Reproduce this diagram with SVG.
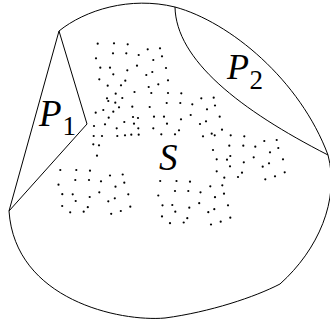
<svg xmlns="http://www.w3.org/2000/svg" width="330" height="324" viewBox="0 0 330 324">
<style>
.ln{fill:none;stroke:#000;stroke-width:1;stroke-linejoin:miter}
.pts circle{fill:#000}
</style>
<rect width="330" height="324" fill="#fff"/>
<g id="S-region">
<path class="ln" d="M59,31 C85,10 130,-4 175,7 C230,22 300,80 328,155 C340,200 318,250 280,284 C255,297 210,312 165,318 C120,322 15,300 9,211 Z"/>
<text x="159" y="170" font-family="Liberation Serif, Times New Roman, serif" font-style="italic" font-size="37" fill="#000">S</text>
</g>
<g id="P1">
<polyline class="ln" points="59,31 87,124 9,211"/>
<text x="39" y="126" font-family="Liberation Serif, Times New Roman, serif" font-style="italic" font-size="37" fill="#000">P</text>
<text x="62.5" y="135" font-family="Liberation Serif, Times New Roman, serif" font-size="27" fill="#000">1</text>
</g>
<g id="P2">
<path class="ln" d="M175,7 C176,60 240,110 328,155"/>
<text x="227" y="79" font-family="Liberation Serif, Times New Roman, serif" font-style="italic" font-size="36" fill="#000">P</text>
<text x="249.5" y="89" font-family="Liberation Serif, Times New Roman, serif" font-size="27" fill="#000">2</text>
</g>
<g id="points" class="pts">
<circle cx="97.7" cy="43.7" r="1.1"/><circle cx="114" cy="43.3" r="1.1"/><circle cx="127.7" cy="44.3" r="1.1"/>
<circle cx="113" cy="53.3" r="1.1"/><circle cx="126.3" cy="53.3" r="1.1"/><circle cx="96" cy="58.3" r="1.1"/>
<circle cx="100.3" cy="67.7" r="1.1"/><circle cx="110" cy="67.7" r="1.1"/><circle cx="127.3" cy="70.3" r="1.1"/>
<circle cx="113.3" cy="74.3" r="1.1"/><circle cx="99.3" cy="79.3" r="1.1"/><circle cx="125.3" cy="80.7" r="1.1"/>
<circle cx="107.7" cy="85.7" r="1.1"/><circle cx="121" cy="85.3" r="1.1"/><circle cx="134.5" cy="92" r="1.1"/>
<circle cx="115.7" cy="93.7" r="1.1"/><circle cx="107" cy="98.3" r="1.1"/><circle cx="122.3" cy="98" r="1.1"/>
<circle cx="147.7" cy="49.3" r="1.1"/><circle cx="160" cy="48.3" r="1.1"/><circle cx="138.7" cy="55" r="1.1"/>
<circle cx="153.3" cy="60" r="1.1"/><circle cx="162" cy="56.3" r="1.1"/><circle cx="137" cy="65.7" r="1.1"/>
<circle cx="166" cy="68" r="1.1"/><circle cx="146.3" cy="75" r="1.1"/><circle cx="152.3" cy="72" r="1.1"/>
<circle cx="168" cy="80.3" r="1.1"/><circle cx="148.7" cy="87" r="1.1"/><circle cx="158.3" cy="84.3" r="1.1"/>
<circle cx="151.3" cy="93" r="1.1"/><circle cx="168" cy="93" r="1.1"/><circle cx="181.3" cy="93.3" r="1.1"/>
<circle cx="201.3" cy="98.3" r="1.1"/><circle cx="213.7" cy="97.7" r="1.1"/>
<circle cx="108.3" cy="101" r="1.1"/><circle cx="115.3" cy="102.7" r="1.1"/><circle cx="119" cy="107.3" r="1.1"/>
<circle cx="113.3" cy="111.7" r="1.1"/><circle cx="103.3" cy="110" r="1.1"/><circle cx="95.7" cy="112.7" r="1.1"/>
<circle cx="132.3" cy="106.7" r="1.1"/><circle cx="108.7" cy="117.7" r="1.1"/><circle cx="133" cy="117" r="1.1"/>
<circle cx="124.3" cy="122" r="1.1"/><circle cx="134" cy="123.7" r="1.1"/><circle cx="94" cy="126" r="1.1"/>
<circle cx="105" cy="124.3" r="1.1"/><circle cx="116.7" cy="128.3" r="1.1"/><circle cx="93.7" cy="136" r="1.1"/>
<circle cx="102" cy="136" r="1.1"/><circle cx="117.3" cy="136" r="1.1"/><circle cx="125" cy="135.3" r="1.1"/>
<circle cx="131.3" cy="134.7" r="1.1"/><circle cx="93.3" cy="144.3" r="1.1"/><circle cx="99" cy="145.3" r="1.1"/>
<circle cx="97" cy="155.7" r="1.1"/>
<circle cx="149.7" cy="107" r="1.1"/><circle cx="166.7" cy="103" r="1.1"/><circle cx="180.3" cy="103" r="1.1"/>
<circle cx="192.3" cy="104.3" r="1.1"/><circle cx="138" cy="118" r="1.1"/><circle cx="154" cy="116.7" r="1.1"/>
<circle cx="164" cy="116.7" r="1.1"/><circle cx="181" cy="119.3" r="1.1"/><circle cx="190.7" cy="115" r="1.1"/>
<circle cx="207" cy="109.3" r="1.1"/><circle cx="215" cy="105.5" r="1.1"/><circle cx="138.3" cy="128.3" r="1.1"/>
<circle cx="153.3" cy="128.3" r="1.1"/><circle cx="167" cy="123.7" r="1.1"/><circle cx="200" cy="124" r="1.1"/>
<circle cx="206" cy="121.3" r="1.1"/><circle cx="138.7" cy="134.7" r="1.1"/><circle cx="161.3" cy="134.3" r="1.1"/>
<circle cx="175" cy="134.3" r="1.1"/><circle cx="179" cy="130.3" r="1.1"/><circle cx="203" cy="136.3" r="1.1"/>
<circle cx="211.7" cy="133.7" r="1.1"/><circle cx="214.7" cy="135.3" r="1.1"/><circle cx="213" cy="150" r="1.1"/>
<circle cx="219.7" cy="116.7" r="1.1"/><circle cx="222" cy="129.7" r="1.1"/><circle cx="230.7" cy="135.3" r="1.1"/>
<circle cx="244.3" cy="136.3" r="1.1"/><circle cx="229.3" cy="145.7" r="1.1"/><circle cx="243.3" cy="145.7" r="1.1"/>
<circle cx="255.3" cy="146.7" r="1.1"/><circle cx="264.3" cy="141" r="1.1"/><circle cx="276.7" cy="140" r="1.1"/>
<circle cx="278.3" cy="148" r="1.1"/><circle cx="270" cy="152.3" r="1.1"/><circle cx="216.7" cy="159.3" r="1.1"/>
<circle cx="227" cy="159.7" r="1.1"/><circle cx="230.3" cy="156" r="1.1"/><circle cx="243.8" cy="162.3" r="1.1"/>
<circle cx="253.7" cy="157.3" r="1.1"/><circle cx="269" cy="163.3" r="1.1"/><circle cx="283" cy="159.3" r="1.1"/>
<circle cx="216.7" cy="171.3" r="1.1"/><circle cx="230" cy="166.3" r="1.1"/><circle cx="224.3" cy="177.7" r="1.1"/>
<circle cx="238" cy="177" r="1.1"/><circle cx="242" cy="172.7" r="1.1"/><circle cx="262.7" cy="166.7" r="1.1"/>
<circle cx="265.3" cy="179.3" r="1.1"/><circle cx="275" cy="176.3" r="1.1"/><circle cx="284.7" cy="172.3" r="1.1"/>
<circle cx="176.5" cy="181" r="1.1"/><circle cx="190" cy="181.7" r="1.1"/><circle cx="175" cy="191" r="1.1"/>
<circle cx="188.3" cy="191" r="1.1"/><circle cx="200.5" cy="192.3" r="1.1"/><circle cx="210.3" cy="186.3" r="1.1"/>
<circle cx="222.3" cy="185.3" r="1.1"/><circle cx="215" cy="197.2" r="1.1"/><circle cx="224" cy="193.7" r="1.1"/>
<circle cx="172.3" cy="205" r="1.1"/><circle cx="175.3" cy="211.7" r="1.1"/><circle cx="189.3" cy="207.7" r="1.1"/>
<circle cx="199.2" cy="203.2" r="1.1"/><circle cx="208.3" cy="212.2" r="1.1"/><circle cx="214.3" cy="209.2" r="1.1"/>
<circle cx="228" cy="205.3" r="1.1"/><circle cx="170" cy="223.2" r="1.1"/><circle cx="183.7" cy="222.5" r="1.1"/>
<circle cx="187.3" cy="218.2" r="1.1"/><circle cx="211" cy="224.5" r="1.1"/><circle cx="220.7" cy="221.7" r="1.1"/>
<circle cx="230.3" cy="217.7" r="1.1"/>
<circle cx="160.2" cy="181" r="1.1"/><circle cx="158.3" cy="195.5" r="1.1"/><circle cx="162.5" cy="205.3" r="1.1"/>
<circle cx="162" cy="216.4" r="1.1"/>
<circle cx="60.3" cy="170" r="1.1"/><circle cx="76.3" cy="170" r="1.1"/><circle cx="90" cy="170.7" r="1.1"/>
<circle cx="58.5" cy="184.7" r="1.1"/><circle cx="75.3" cy="180" r="1.1"/><circle cx="89" cy="180" r="1.1"/>
<circle cx="101" cy="181.3" r="1.1"/><circle cx="110" cy="175.5" r="1.1"/><circle cx="122.7" cy="174.5" r="1.1"/>
<circle cx="115.5" cy="186.7" r="1.1"/><circle cx="124.3" cy="182.7" r="1.1"/><circle cx="62.3" cy="194.2" r="1.1"/>
<circle cx="72.7" cy="194.3" r="1.1"/><circle cx="89.7" cy="197" r="1.1"/><circle cx="99.3" cy="192.3" r="1.1"/>
<circle cx="128.3" cy="194.3" r="1.1"/><circle cx="75.7" cy="201" r="1.1"/><circle cx="108.3" cy="201.3" r="1.1"/>
<circle cx="114.8" cy="198.3" r="1.1"/><circle cx="62.2" cy="206" r="1.1"/><circle cx="87.8" cy="207.2" r="1.1"/>
<circle cx="130.3" cy="206.7" r="1.1"/><circle cx="70.2" cy="212.3" r="1.1"/><circle cx="83.7" cy="211.7" r="1.1"/>
<circle cx="111.2" cy="213.8" r="1.1"/><circle cx="120.8" cy="211" r="1.1"/>
</g>
</svg>
